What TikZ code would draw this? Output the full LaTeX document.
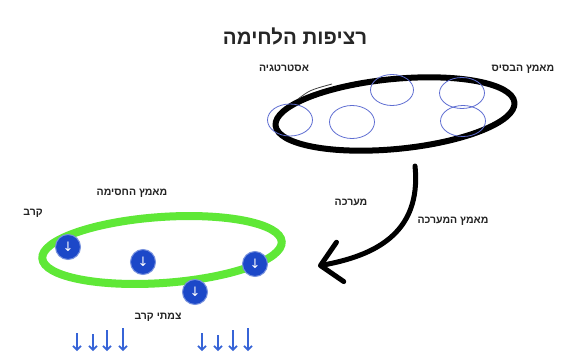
\documentclass[tikz,border=0pt]{standalone}
\usepackage{fontspec}
\setmainfont{Liberation Sans}
\newfontfamily\heb[Script=Hebrew]{Liberation Sans}
\newfontfamily\dvs{DejaVu Sans}
\TeXXeTstate=1
\usetikzlibrary{arrows.meta,shapes.geometric}
\newcommand{\hb}[1]{{\heb\beginR #1\endR}}
\definecolor{bluec}{RGB}{95,110,210}
\definecolor{grn}{RGB}{95,232,55}
\definecolor{dotb}{RGB}{28,72,200}
\definecolor{arrb}{RGB}{55,100,215}
\definecolor{txt}{RGB}{35,35,35}
\begin{document}
\begin{tikzpicture}[x=1pt,y=-1pt,
  lbl/.style={font=\fontsize{10.5}{11}\selectfont\bfseries, text=txt, inner sep=0pt},
  ttl/.style={font=\fontsize{20.5}{22}\selectfont\bfseries, text=black!85, inner sep=0pt},
  bcirc/.style={draw=bluec, ellipse, line width=0.8pt, inner sep=0pt},
  loopb/.style={draw=black, ellipse, line width=6pt, inner sep=0pt},
  loopg/.style={draw=grn, ellipse, line width=8pt, inner sep=0pt},
  dot/.style={circle, fill=dotb, draw=dotb!60, line width=1pt, minimum size=25pt, inner sep=0pt, text=white, font=\dvs\fontsize{13}{13}\selectfont},
  bigarrow/.style={line width=5pt, line cap=round, -{Straight Barb[length=20pt,width=40pt,line cap=round,line join=round]}},
  smallarrow/.style={arrb, line width=1.6pt, -{Straight Barb[length=4pt,width=8pt]}}
]
\useasboundingbox (0,0) rectangle (569,353);
\fill[white] (0,0) rectangle (569,353);

\node[ttl] (title) at (295,36) {\hb{רציפות הלחימה}};

% top loop (strategy / campaign level)
\node[loopb, minimum width=240pt, minimum height=70pt, rotate=5.5] (top) at (395,114) {};
\draw[line width=0.8pt, black!75] (298,99) .. controls (310,90) .. (332,84);
\node[bcirc, minimum width=45pt, minimum height=32pt] (c1) at (290,120) {};
\node[bcirc, minimum width=45pt, minimum height=33pt] (c2) at (352,122) {};
\node[bcirc, minimum width=43pt, minimum height=31pt] (c3) at (392,90) {};
\node[bcirc, minimum width=45pt, minimum height=31pt] (c4) at (462,93) {};
\node[bcirc, minimum width=45pt, minimum height=31pt] (c5) at (463,121) {};

\node[lbl] (lstr) at (284,68) {\hb{אסטרטגיה}};
\node[lbl] (lbase) at (523,69) {\hb{מאמץ הבסיס}};

% curved arrow
\coordinate (aS) at (415,166);
\coordinate (aE) at (318,266);
\draw[bigarrow] (aS) .. controls (422,235) and (372,256) .. (aE);
\node[lbl] (lcamp) at (351,202) {\hb{מערכה}};
\node[lbl] (leff) at (453,221) {\hb{מאמץ המערכה}};

% bottom loop (battle level)
\node[lbl] (lblock) at (132,193) {\hb{מאמץ החסימה}};
\node[lbl] (lbattle) at (33,213) {\hb{קרב}};
\node[loopg, minimum width=240pt, minimum height=66pt, rotate=4] (bottom) at (162,250) {};
\node[dot] (d1) at (68,247) {↓};
\node[dot] (d2) at (143,262) {↓};
\node[dot] (d3) at (255,264) {↓};
\node[dot] (d4) at (195,292) {↓};
\node[lbl] (lnodes) at (158,317) {\hb{צמתי קרב}};

% small arrows
\foreach \i/\x/\t in {1/77/333, 2/93/334, 3/107/330, 4/123/328, 5/202/333, 6/218/335, 7/233/330, 8/248/328} {
  \coordinate (s\i) at (\x,\t);
  \coordinate (e\i) at (\x,351);
  \draw[smallarrow] (s\i) -- (e\i);
}
\end{tikzpicture}
\end{document}
